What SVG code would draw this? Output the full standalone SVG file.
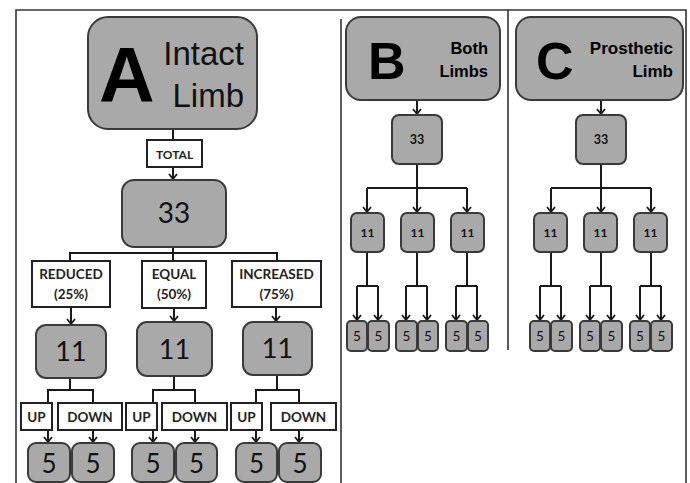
<svg xmlns="http://www.w3.org/2000/svg" width="690" height="483" viewBox="0 0 690 483">
<defs>
<style>
.frame{fill:none;stroke:#333;stroke-width:1.6}
.node{fill:#a9a9a9;stroke:#3a3a3a;stroke-width:2}
.lbl{fill:#fff;stroke:#222;stroke-width:2}
.con line,.con path{fill:none;stroke:#1a1a1a;stroke-width:2}
.arr{marker-end:url(#ah)}
.big{font-family:"Liberation Sans",Arial,sans-serif;font-weight:bold;fill:#000}
.ttl{font-family:"Liberation Sans",Arial,sans-serif;fill:#111}
.num{font-family:Lato,"Open Sans",sans-serif;fill:#111;text-anchor:middle}
.lab{font-family:Lato,"Open Sans",sans-serif;font-weight:bold;fill:#222;text-anchor:middle}
</style>
<marker id="ah" viewBox="-7 -5 8 10" refX="0" refY="0" markerWidth="8" markerHeight="10" markerUnits="userSpaceOnUse" orient="auto">
<path d="M-5,-4 L0,0 L-5,4" fill="none" stroke="#1a1a1a" stroke-width="1.8"/>
</marker>
</defs>
<rect width="690" height="483" fill="#fff"/>
<g id="frame">
<path class="frame" d="M16,483 V10 H686 V483"/>
<line class="frame" x1="341" y1="19" x2="341" y2="483"/>
<line class="frame" x1="508" y1="10" x2="508" y2="350"/>
</g>

<g class="con" id="connectors">
<!-- Panel A -->
<line x1="173" y1="129" x2="173" y2="140"/>
<line class="arr" x1="173" y1="167" x2="173" y2="179"/>
<path d="M173,247 V253 M70,261 V253 H277 V261 M173,253 V261"/>
<line class="arr" x1="71" y1="307" x2="71" y2="324"/>
<line class="arr" x1="174" y1="308" x2="174" y2="321"/>
<line class="arr" x1="276" y1="307" x2="276" y2="321"/>
<path d="M70,378 V390 M48,403 V390 H93 V403"/>
<path d="M174,376 V390 M153,403 V390 H195 V403"/>
<path d="M277,375 V390 M256,403 V390 H299 V403"/>
<line class="arr" x1="48" y1="429" x2="48" y2="442"/>
<line class="arr" x1="93" y1="430" x2="93" y2="442"/>
<line class="arr" x1="153" y1="430" x2="153" y2="442"/>
<line class="arr" x1="195" y1="430" x2="195" y2="442"/>
<line class="arr" x1="256" y1="430" x2="256" y2="442"/>
<line class="arr" x1="299" y1="430" x2="299" y2="442"/>
<!-- Panel B -->
<line class="arr" x1="417" y1="100" x2="417" y2="114"/>
<path d="M417,164 V188 M367,188 H467"/>
<line class="arr" x1="367" y1="188" x2="367" y2="212"/>
<line class="arr" x1="417" y1="188" x2="417" y2="212"/>
<line class="arr" x1="467" y1="188" x2="467" y2="212"/>
<path d="M367,252 V286 M357,286 H378 M417,252 V286 M406,286 H427 M467,252 V286 M456,286 H477"/>
<line class="arr" x1="357" y1="286" x2="357" y2="320"/>
<line class="arr" x1="378" y1="286" x2="378" y2="320"/>
<line class="arr" x1="406" y1="286" x2="406" y2="320"/>
<line class="arr" x1="427" y1="286" x2="427" y2="320"/>
<line class="arr" x1="456" y1="286" x2="456" y2="320"/>
<line class="arr" x1="477" y1="286" x2="477" y2="320"/>
<!-- Panel C -->
<line class="arr" x1="601" y1="100" x2="601" y2="114"/>
<path d="M601,164 V188 M551,188 H651"/>
<line class="arr" x1="551" y1="188" x2="551" y2="212"/>
<line class="arr" x1="601" y1="188" x2="601" y2="212"/>
<line class="arr" x1="651" y1="188" x2="651" y2="212"/>
<path d="M551,252 V286 M540,286 H561 M601,252 V286 M590,286 H611 M651,252 V286 M640,286 H661"/>
<line class="arr" x1="540" y1="286" x2="540" y2="320"/>
<line class="arr" x1="561" y1="286" x2="561" y2="320"/>
<line class="arr" x1="590" y1="286" x2="590" y2="320"/>
<line class="arr" x1="611" y1="286" x2="611" y2="320"/>
<line class="arr" x1="640" y1="286" x2="640" y2="320"/>
<line class="arr" x1="661" y1="286" x2="661" y2="320"/>
</g>

<!-- Panel A nodes -->
<g id="A-header">
<rect class="node" x="88" y="17" width="169" height="112" rx="20"/>
<text class="big" x="99" y="102" font-size="77">A</text>
<text class="ttl" x="244" y="65" font-size="33" text-anchor="end">Intact</text>
<text class="ttl" x="244" y="107" font-size="33" text-anchor="end">Limb</text>
</g>
<g id="A-total"><rect class="lbl" x="147" y="140" width="55" height="27"/><text class="lab" x="174.5" y="159" font-size="12">TOTAL</text></g>
<g id="A-33"><rect class="node" x="122" y="180" width="104" height="67" rx="12"/><text class="num" x="174" y="223" font-size="28">33</text></g>
<g id="A-reduced"><rect class="lbl" x="32" y="261" width="78" height="46"/><text class="lab" x="71" y="279" font-size="13.5">REDUCED</text><text class="lab" x="71" y="299" font-size="13.5">(25%)</text></g>
<g id="A-equal"><rect class="lbl" x="142" y="261" width="64" height="47"/><text class="lab" x="174" y="279" font-size="13.5">EQUAL</text><text class="lab" x="174" y="299" font-size="13.5">(50%)</text></g>
<g id="A-increased"><rect class="lbl" x="232" y="261" width="89" height="46"/><text class="lab" x="276.5" y="279" font-size="13.5">INCREASED</text><text class="lab" x="276.5" y="299" font-size="13.5">(75%)</text></g>
<g id="A-11a"><rect class="node" x="36" y="325" width="70" height="53" rx="10"/><text class="num" x="71" y="361" font-size="27">11</text></g>
<g id="A-11b"><rect class="node" x="137" y="322" width="75" height="54" rx="10"/><text class="num" x="174.5" y="359" font-size="27">11</text></g>
<g id="A-11c"><rect class="node" x="243" y="322" width="69" height="53" rx="10"/><text class="num" x="277.5" y="358" font-size="27">11</text></g>
<g id="A-up1"><rect class="lbl" x="21" y="403" width="31" height="27"/><text class="lab" x="36.5" y="422" font-size="13.5">UP</text></g>
<g id="A-down1"><rect class="lbl" x="58" y="403" width="64" height="27"/><text class="lab" x="90" y="422" font-size="13.5">DOWN</text></g>
<g id="A-up2"><rect class="lbl" x="126" y="403" width="31" height="27"/><text class="lab" x="141.5" y="422" font-size="13.5">UP</text></g>
<g id="A-down2"><rect class="lbl" x="162" y="403" width="65" height="27"/><text class="lab" x="194.5" y="422" font-size="13.5">DOWN</text></g>
<g id="A-up3"><rect class="lbl" x="231" y="403" width="31" height="27"/><text class="lab" x="246.5" y="422" font-size="13.5">UP</text></g>
<g id="A-down3"><rect class="lbl" x="271" y="403" width="65" height="27"/><text class="lab" x="303.5" y="422" font-size="13.5">DOWN</text></g>
<g id="A-5a"><rect class="node" x="28" y="443" width="42" height="39" rx="8"/><text class="num" x="49" y="473" font-size="26">5</text></g>
<g id="A-5b"><rect class="node" x="72" y="443" width="42" height="39" rx="8"/><text class="num" x="93" y="473" font-size="26">5</text></g>
<g id="A-5c"><rect class="node" x="132" y="443" width="42" height="39" rx="8"/><text class="num" x="153" y="473" font-size="26">5</text></g>
<g id="A-5d"><rect class="node" x="176" y="443" width="41" height="39" rx="8"/><text class="num" x="196.5" y="473" font-size="26">5</text></g>
<g id="A-5e"><rect class="node" x="236" y="443" width="41" height="39" rx="8"/><text class="num" x="256.5" y="473" font-size="26">5</text></g>
<g id="A-5f"><rect class="node" x="279" y="443" width="42" height="39" rx="8"/><text class="num" x="300" y="473" font-size="26">5</text></g>

<!-- Panel B nodes -->
<g id="B-header">
<rect class="node" x="346" y="17" width="154" height="83" rx="15"/>
<text class="big" x="368" y="79" font-size="52">B</text>
<text class="big" x="488" y="54" font-size="16.5" text-anchor="end" fill="#111">Both</text>
<text class="big" x="488" y="77" font-size="16.5" text-anchor="end" fill="#111">Limbs</text>
</g>
<g id="B-33"><rect class="node" x="392" y="115" width="50" height="49" rx="7"/><text class="num" x="417" y="144" font-size="12.5" font-weight="bold">33</text></g>
<g id="B-11a"><rect class="node" x="351" y="213" width="33" height="39" rx="6"/><text class="num" x="367.5" y="237" font-size="12" font-weight="bold">11</text></g>
<g id="B-11b"><rect class="node" x="401" y="213" width="33" height="39" rx="6"/><text class="num" x="417.5" y="237" font-size="12" font-weight="bold">11</text></g>
<g id="B-11c"><rect class="node" x="451" y="213" width="33" height="39" rx="6"/><text class="num" x="467.5" y="237" font-size="12" font-weight="bold">11</text></g>
<g id="B-5a"><rect class="node" x="347" y="321" width="20" height="30" rx="4"/><text class="num" x="357" y="341" font-size="13.5">5</text></g>
<g id="B-5b"><rect class="node" x="368" y="321" width="21" height="30" rx="4"/><text class="num" x="378.5" y="341" font-size="13.5">5</text></g>
<g id="B-5c"><rect class="node" x="396" y="321" width="21" height="30" rx="4"/><text class="num" x="406.5" y="341" font-size="13.5">5</text></g>
<g id="B-5d"><rect class="node" x="418" y="321" width="20" height="30" rx="4"/><text class="num" x="428" y="341" font-size="13.5">5</text></g>
<g id="B-5e"><rect class="node" x="446" y="321" width="21" height="30" rx="4"/><text class="num" x="456.5" y="341" font-size="13.5">5</text></g>
<g id="B-5f"><rect class="node" x="468" y="321" width="20" height="30" rx="4"/><text class="num" x="478" y="341" font-size="13.5">5</text></g>

<!-- Panel C nodes -->
<g id="C-header">
<rect class="node" x="516" y="17" width="167" height="83" rx="15"/>
<text class="big" x="536" y="79" font-size="52">C</text>
<text class="big" x="673" y="54" font-size="17" text-anchor="end" fill="#111">Prosthetic</text>
<text class="big" x="673" y="77" font-size="17" text-anchor="end" fill="#111">Limb</text>
</g>
<g id="C-33"><rect class="node" x="576" y="115" width="50" height="49" rx="7"/><text class="num" x="601" y="144" font-size="12.5" font-weight="bold">33</text></g>
<g id="C-11a"><rect class="node" x="534" y="213" width="33" height="39" rx="6"/><text class="num" x="550.5" y="237" font-size="12" font-weight="bold">11</text></g>
<g id="C-11b"><rect class="node" x="584" y="213" width="33" height="39" rx="6"/><text class="num" x="600.5" y="237" font-size="12" font-weight="bold">11</text></g>
<g id="C-11c"><rect class="node" x="634" y="213" width="33" height="39" rx="6"/><text class="num" x="650.5" y="237" font-size="12" font-weight="bold">11</text></g>
<g id="C-5a"><rect class="node" x="530" y="321" width="20" height="30" rx="4"/><text class="num" x="540" y="341" font-size="13.5">5</text></g>
<g id="C-5b"><rect class="node" x="551" y="321" width="21" height="30" rx="4"/><text class="num" x="561.5" y="341" font-size="13.5">5</text></g>
<g id="C-5c"><rect class="node" x="580" y="321" width="20" height="30" rx="4"/><text class="num" x="590" y="341" font-size="13.5">5</text></g>
<g id="C-5d"><rect class="node" x="601" y="321" width="21" height="30" rx="4"/><text class="num" x="611.5" y="341" font-size="13.5">5</text></g>
<g id="C-5e"><rect class="node" x="630" y="321" width="20" height="30" rx="4"/><text class="num" x="640" y="341" font-size="13.5">5</text></g>
<g id="C-5f"><rect class="node" x="651" y="321" width="21" height="30" rx="4"/><text class="num" x="661.5" y="341" font-size="13.5">5</text></g>
</svg>
